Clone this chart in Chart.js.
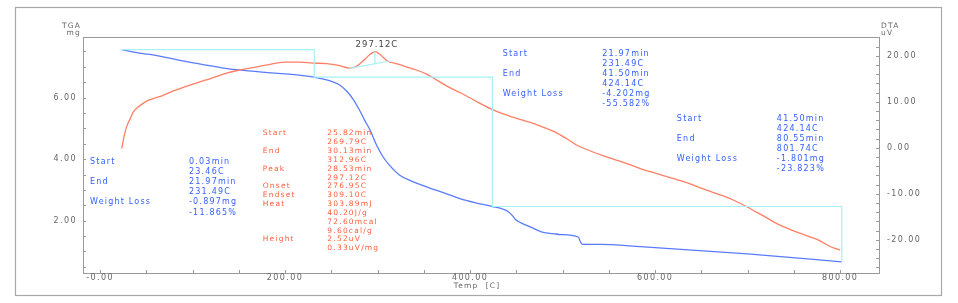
<!DOCTYPE html>
<html>
<head>
<meta charset="utf-8">
<script src="https://cdn.jsdelivr.net/npm/chart.js@4"></script>
<style>
  body { margin: 0; background: #fff; }
  canvas { display: block; }
</style>
</head>
<body>
<canvas id="tgaChart" width="958" height="303"></canvas>
<script>
// TGA curve (mg vs temperature)
const tgaTemps = [23.46, 40, 52, 67, 85, 103, 120, 133, 150, 175, 200, 215, 231.49, 245, 259, 267, 274, 280, 286, 292, 299, 306, 313, 324, 338, 353, 370, 389, 405, 424.14, 436, 441, 445, 449, 455, 465, 479, 490, 497, 517, 519, 521, 540, 584, 700, 801.74];
const tgaMass  = [7.56, 7.46, 7.41, 7.33, 7.22, 7.12, 7.03, 6.96, 6.90, 6.83, 6.77, 6.73, 6.663, 6.58, 6.41, 6.20, 5.93, 5.62, 5.27, 4.94, 4.45, 4.07, 3.80, 3.48, 3.27, 3.10, 2.92, 2.72, 2.59, 2.461, 2.37, 2.30, 2.19, 2.04, 1.93, 1.80, 1.62, 1.58, 1.55, 1.47, 1.33, 1.24, 1.23, 1.16, 0.92, 0.66];

// DTA curve (uV vs temperature)
const dtaTemps  = [23.5, 26, 28.8, 33, 36, 41.4, 47, 52, 67, 80, 103, 120, 135, 151, 170, 185, 202, 215, 230, 245, 258, 270, 278, 285, 292, 297.12, 303, 311, 320, 331, 342, 353, 364, 375, 390, 403, 423, 435, 447, 465, 480, 494, 505, 515, 530, 545, 560, 572, 584, 602, 620, 635, 649, 661, 673, 685, 699, 717, 735, 757, 775, 791, 800];
const dtaSignal = [-0.1, 2.5, 4.6, 6.5, 7.8, 8.9, 9.7, 10.3, 11.3, 12.4, 14.0, 15.1, 16.1, 16.9, 17.6, 18.2, 18.6, 18.6, 18.4, 18.3, 17.9, 17.3, 17.8, 19.0, 20.3, 20.9, 20.2, 18.8, 18.3, 17.6, 16.9, 16.0, 14.7, 13.4, 11.9, 10.5, 8.4, 7.4, 6.6, 5.5, 4.4, 3.2, 1.9, 0.6, -0.7, -1.8, -2.8, -3.6, -4.5, -5.6, -6.7, -7.6, -8.7, -9.6, -10.4, -11.4, -12.8, -14.8, -16.8, -18.6, -19.9, -21.6, -22.2];

// weight loss steps (start/end temperatures and masses)
const stepTemps = [23.46, 231.49, 231.49, 424.14, 424.14, 801.74, 801.74];
const stepMass  = [7.56, 7.56, 6.663, 6.663, 2.461, 2.461, 0.66];

// DTA peak baseline and peak height
const peakBaseTemps  = [269.79, 312.96];
const peakBaseSignal = [17.26, 18.85];
const peakTemp = 297.12;
const peakTop = 20.9;
const peakBase = 18.16;

// axis ticks
const xMajor = [0, 200, 400, 600, 800];
const xLabels = ['-0.00', '200.00', '400.00', '600.00', '800.00'];
const yLeftMajor = [2, 4, 6];
const yRightMajor = [-20, -10, 0, 10, 20];

// result texts
const loss1 = [['Start', '0.03min'], ['', '23.46C'], ['End', '21.97min'], ['', '231.49C'], ['Weight Loss', '-0.897mg'], ['', '-11.865%']];
const loss2 = [['Start', '21.97min'], ['', '231.49C'], ['End', '41.50min'], ['', '424.14C'], ['Weight Loss', '-4.202mg'], ['', '-55.582%']];
const loss3 = [['Start', '41.50min'], ['', '424.14C'], ['End', '80.55min'], ['', '801.74C'], ['Weight Loss', '-1.801mg'], ['', '-23.823%']];
const peakInfo = [['Start', '25.82min'], ['', '269.79C'], ['End', '30.13min'], ['', '312.96C'], ['Peak', '28.53min'], ['', '297.12C'], ['Onset', '276.95C'], ['Endset', '309.10C'], ['Heat', '303.89mJ'], ['', '40.20J/g'], ['', '72.60mcal'], ['', '9.60cal/g'], ['Height', '2.52uV'], ['', '0.33uV/mg']];

const BLUE = '#5b7bff';
const RED = '#ff7f66';
const CYAN = '#a6f0f6';
const BLUE_TXT = '#3560ff';
const RED_TXT = '#ff5d3d';
const AXIS = '#9a9a9a';

function pts(xs, ys) {
    return xs.map((x, i) => ({ x: x, y: ys[i] }));
}

function txt(ctx, s, x, y, color, size, align, spacing) {
    ctx.font = size + 'px "DejaVu Sans"';
    ctx.fillStyle = color;
    ctx.textAlign = align || 'left';
    ctx.textBaseline = 'middle';
    ctx.letterSpacing = (spacing === undefined ? 1.2 : spacing) + 'px';
    ctx.fillText(s, x, y);
}

function block(ctx, xs, ys, rows, t, m, valueOffset, lineGap, color, size) {
    const x0 = xs.getPixelForValue(t);
    const y0 = ys.getPixelForValue(m);
    rows.forEach((r, i) => {
        if (r[0]) txt(ctx, r[0], x0, y0 + i * lineGap, color, size);
        txt(ctx, r[1], x0 + valueOffset, y0 + i * lineGap, color, size);
    });
}

const decorations = {
    id: 'decorations',
    afterDraw(chart) {
        const ctx = chart.ctx;
        const a = chart.chartArea;
        const xs = chart.scales.x;
        const yl = chart.scales.y;
        const yr = chart.scales.y2;
        ctx.save();

        // outer frame
        ctx.strokeStyle = '#a8a8a8';
        ctx.lineWidth = 1.2;
        ctx.strokeRect(15.5, 7.5, 926, 288);

        // plot box
        ctx.strokeStyle = AXIS;
        ctx.lineWidth = 1;
        ctx.strokeRect(a.left + 0.5, a.top + 0.5, a.right - a.left, a.bottom - a.top);

        // inward tick marks
        ctx.beginPath();
        for (let v = 0; v <= 800; v += 50) {
            const px = Math.round(xs.getPixelForValue(v)) + 0.5;
            ctx.moveTo(px, a.bottom);
            ctx.lineTo(px, a.bottom - 3);
        }
        for (let v = 0.5; v <= 7.6; v += 0.5) {
            const py = Math.round(yl.getPixelForValue(v)) + 0.5;
            ctx.moveTo(a.left, py);
            ctx.lineTo(a.left + 3, py);
        }
        for (let v = -26; v <= 24; v += 2) {
            const py = Math.round(yr.getPixelForValue(v)) + 0.5;
            ctx.moveTo(a.right, py);
            ctx.lineTo(a.right - 3, py);
        }
        ctx.stroke();

        // tick labels
        xMajor.forEach((v, i) => txt(ctx, xLabels[i], xs.getPixelForValue(v), a.bottom + 5, '#666', 8, 'center', 1.4));
        yLeftMajor.forEach(v => txt(ctx, v.toFixed(2), a.left - 6, yl.getPixelForValue(v), '#666', 8, 'right', 1.4));
        yRightMajor.forEach(v => txt(ctx, v.toFixed(2), a.right + 8, yr.getPixelForValue(v), '#666', 8, 'left', 1.4));

        // axis titles
        txt(ctx, 'TGA', a.left - 2, 26, '#666', 7.5, 'right');
        txt(ctx, 'mg', a.left - 2, 33.5, '#666', 7.5, 'right');
        txt(ctx, 'DTA', a.right + 2, 26, '#666', 7.5, 'left');
        txt(ctx, 'uV', a.right + 2, 33.5, '#666', 7.5, 'left');
        txt(ctx, 'Temp  [C]', (a.left + a.right) / 2 - 4, a.bottom + 13, '#666', 7.5, 'center');

        // peak label
        txt(ctx, '297.12C', xs.getPixelForValue(peakTemp) + 2, yr.getPixelForValue(peakTop) - 7, '#444', 8.5, 'center', 1);

        // result blocks
        block(ctx, xs, yl, loss1, -10.8, 3.92, 99, 10.2, BLUE_TXT, 8);
        block(ctx, xs, yl, loss2, 435.2, 7.42, 99.6, 10, BLUE_TXT, 8);
        block(ctx, xs, yl, loss3, 623.5, 5.31, 100, 10.1, BLUE_TXT, 8);
        block(ctx, xs, yl, peakInfo, 175.9, 4.84, 64.6, 8.85, RED_TXT, 7.5);

        ctx.restore();
    }
};

const line = { pointRadius: 0, tension: 0, borderWidth: 1.2 };
const curve = { pointRadius: 0, tension: 0.4, cubicInterpolationMode: 'monotone', borderWidth: 1.3 };

new Chart(document.getElementById('tgaChart').getContext('2d'), {
    type: 'line',
    data: {
        datasets: [
            Object.assign({ label: 'steps', data: pts(stepTemps, stepMass), yAxisID: 'y', borderColor: CYAN }, line),
            Object.assign({ label: 'peak baseline', data: pts(peakBaseTemps, peakBaseSignal), yAxisID: 'y2', borderColor: CYAN }, line),
            Object.assign({ label: 'peak height', data: pts([peakTemp, peakTemp], [peakTop, peakBase]), yAxisID: 'y2', borderColor: CYAN }, line),
            Object.assign({ label: 'DTA', data: pts(dtaTemps, dtaSignal), yAxisID: 'y2', borderColor: RED }, curve),
            Object.assign({ label: 'TGA', data: pts(tgaTemps, tgaMass), yAxisID: 'y', borderColor: BLUE }, curve)
        ]
    },
    options: {
        responsive: false,
        animation: false,
        layout: { padding: { top: 37, left: 0, right: 0, bottom: 0 } },
        plugins: { legend: { display: false }, tooltip: { enabled: false } },
        scales: {
            x: {
                type: 'linear',
                min: -18.4,
                max: 842,
                grid: { display: false },
                border: { display: false },
                ticks: { display: false },
                afterFit: s => { s.height = 30; }
            },
            y: {
                position: 'left',
                min: 0.3,
                max: 7.97,
                grid: { display: false },
                border: { display: false },
                ticks: { display: false },
                afterFit: s => { s.width = 83; }
            },
            y2: {
                position: 'right',
                min: -27.2,
                max: 24.07,
                grid: { display: false },
                border: { display: false },
                ticks: { display: false },
                afterFit: s => { s.width = 79; }
            }
        }
    },
    plugins: [decorations]
});
</script>
</body>
</html>
